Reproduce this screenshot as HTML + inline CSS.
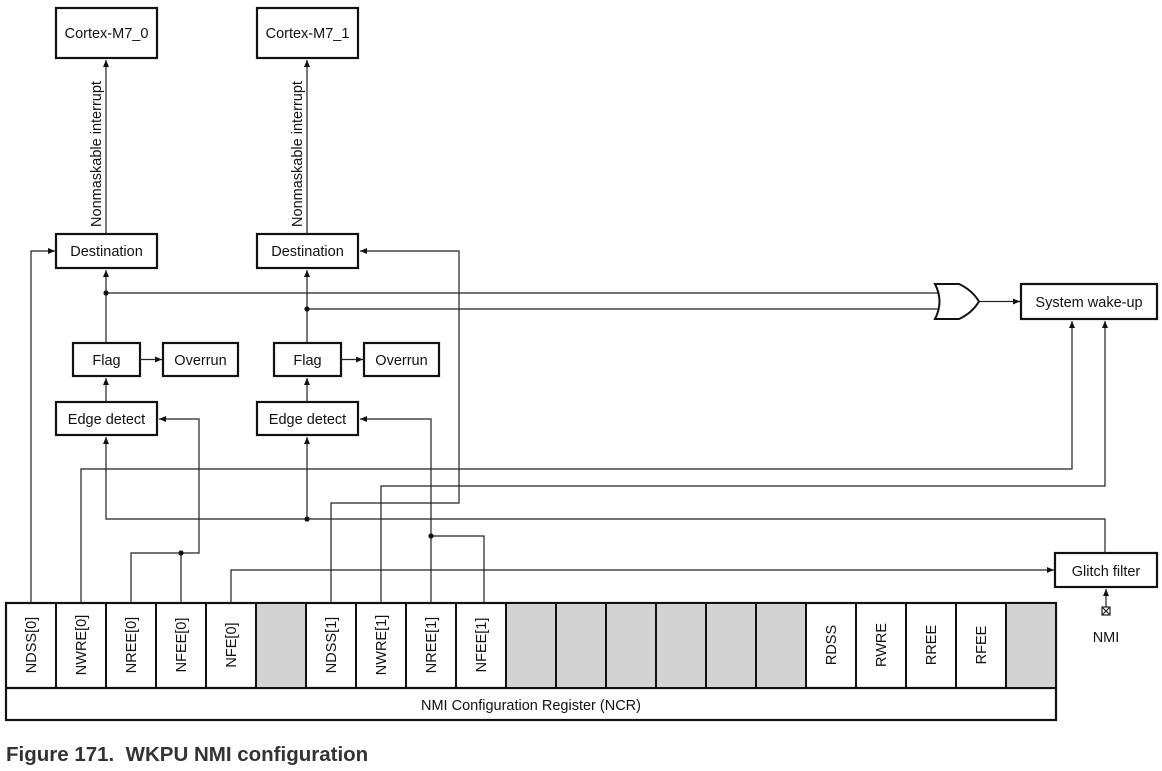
<!DOCTYPE html>
<html><head><meta charset="utf-8"><style>
body{margin:0;background:#fff;}
svg{display:block;font-family:"Liberation Sans",Arial,sans-serif;}
</style></head><body>
<svg width="1162" height="771" viewBox="0 0 1162 771" xmlns="http://www.w3.org/2000/svg">
<defs>
<marker id="a" markerWidth="8" markerHeight="8" refX="7" refY="4" orient="auto" markerUnits="userSpaceOnUse">
<path d="M0,1 L7,4 L0,7 z" fill="#111"/></marker>
</defs>
<g fill="none" stroke="#111" stroke-width="2.2">
<rect x="56" y="8" width="101" height="50"/>
<rect x="257" y="8" width="101" height="50"/>
<rect x="56" y="234" width="101" height="34"/>
<rect x="257" y="234" width="101" height="34"/>
<rect x="73" y="343" width="67" height="33"/>
<rect x="163" y="343" width="75" height="33"/>
<rect x="274" y="343" width="67" height="33"/>
<rect x="364" y="343" width="75" height="33"/>
<rect x="56" y="402" width="101" height="33"/>
<rect x="257" y="402" width="101" height="33"/>
<rect x="1021" y="284" width="136" height="35"/>
<rect x="1055" y="553" width="102" height="34"/>
<path d="M935,284 L959,284 Q972,290 979,301.5 Q972,313 959,319 L935,319 Q944,301.5 935,284 z" stroke-width="2"/>
<rect x="6" y="603" width="1050" height="117"/>
<line x1="6" y1="688" x2="1056" y2="688"/>
</g>
<g fill="#d3d3d3" stroke="#111" stroke-width="2">
<rect x="256" y="603" width="50" height="85"/>
<rect x="506" y="603" width="50" height="85"/>
<rect x="556" y="603" width="50" height="85"/>
<rect x="606" y="603" width="50" height="85"/>
<rect x="656" y="603" width="50" height="85"/>
<rect x="706" y="603" width="50" height="85"/>
<rect x="756" y="603" width="50" height="85"/>
<rect x="1006" y="603" width="50" height="85"/>
</g>
<g stroke="#111" stroke-width="2">
<line x1="56" y1="603" x2="56" y2="688"/><line x1="106" y1="603" x2="106" y2="688"/>
<line x1="156" y1="603" x2="156" y2="688"/><line x1="206" y1="603" x2="206" y2="688"/>
<line x1="356" y1="603" x2="356" y2="688"/><line x1="406" y1="603" x2="406" y2="688"/>
<line x1="456" y1="603" x2="456" y2="688"/><line x1="856" y1="603" x2="856" y2="688"/>
<line x1="906" y1="603" x2="906" y2="688"/><line x1="956" y1="603" x2="956" y2="688"/>
</g>
<g fill="none" stroke="#222" stroke-width="1.2">
<line x1="106" y1="234" x2="106" y2="60" marker-end="url(#a)"/>
<line x1="307" y1="234" x2="307" y2="60" marker-end="url(#a)"/>
<line x1="106" y1="343" x2="106" y2="270" marker-end="url(#a)"/>
<line x1="307" y1="343" x2="307" y2="270" marker-end="url(#a)"/>
<line x1="106" y1="402" x2="106" y2="378" marker-end="url(#a)"/>
<line x1="307" y1="402" x2="307" y2="378" marker-end="url(#a)"/>
<line x1="140" y1="359.5" x2="162" y2="359.5" marker-end="url(#a)"/>
<line x1="341" y1="359.5" x2="363" y2="359.5" marker-end="url(#a)"/>
<line x1="106" y1="293" x2="938" y2="293"/>
<line x1="307" y1="309" x2="938" y2="309"/>
<line x1="979" y1="301.5" x2="1020" y2="301.5" marker-end="url(#a)"/>
<polyline points="31,603 31,251 55,251" marker-end="url(#a)"/>
<polyline points="81,603 81,469 1072,469 1072,321" marker-end="url(#a)"/>
<polyline points="381,603 381,486 1105,486 1105,321" marker-end="url(#a)"/>
<polyline points="331,603 331,503 459,503 459,251 360,251" marker-end="url(#a)"/>
<polyline points="1105,553 1105,519 106,519 106,437" marker-end="url(#a)"/>
<line x1="307" y1="519" x2="307" y2="437" marker-end="url(#a)"/>
<polyline points="131,603 131,553 199,553 199,419 159,419" marker-end="url(#a)"/>
<line x1="181" y1="553" x2="181" y2="603"/>
<polyline points="431,603 431,419 360,419" marker-end="url(#a)"/>
<polyline points="431,536 484,536 484,603"/>
<polyline points="231,603 231,570 1054,570" marker-end="url(#a)"/>
<line x1="1106" y1="607" x2="1106" y2="589" marker-end="url(#a)"/>
<rect x="1102" y="607" width="8" height="8"/>
<line x1="1102" y1="607" x2="1110" y2="615"/><line x1="1110" y1="607" x2="1102" y2="615"/>
</g>
<g fill="#111">
<circle cx="106" cy="293" r="2.6"/><circle cx="307" cy="309" r="2.6"/>
<circle cx="307" cy="519" r="2.6"/><circle cx="181" cy="553" r="2.6"/>
<circle cx="431" cy="536" r="2.6"/>
</g>
<g font-size="14.5" fill="#111" text-anchor="middle">
<text x="106.5" y="38">Cortex-M7_0</text>
<text x="307.5" y="38">Cortex-M7_1</text>
<text x="106.5" y="256">Destination</text>
<text x="307.5" y="256">Destination</text>
<text x="106.5" y="365">Flag</text>
<text x="200.5" y="365">Overrun</text>
<text x="307.5" y="365">Flag</text>
<text x="401.5" y="365">Overrun</text>
<text x="106.5" y="424">Edge detect</text>
<text x="307.5" y="424">Edge detect</text>
<text x="1089" y="307">System wake-up</text>
<text x="1106" y="576">Glitch filter</text>
<text x="1106" y="642">NMI</text>
<text x="531" y="710">NMI Configuration Register (NCR)</text>
<text transform="translate(101,154) rotate(-90)">Nonmaskable interrupt</text>
<text transform="translate(302,154) rotate(-90)">Nonmaskable interrupt</text>
<text transform="translate(36,645) rotate(-90)">NDSS[0]</text>
<text transform="translate(86,645) rotate(-90)">NWRE[0]</text>
<text transform="translate(136,645) rotate(-90)">NREE[0]</text>
<text transform="translate(186,645) rotate(-90)">NFEE[0]</text>
<text transform="translate(236,645) rotate(-90)">NFE[0]</text>
<text transform="translate(336,645) rotate(-90)">NDSS[1]</text>
<text transform="translate(386,645) rotate(-90)">NWRE[1]</text>
<text transform="translate(436,645) rotate(-90)">NREE[1]</text>
<text transform="translate(486,645) rotate(-90)">NFEE[1]</text>
<text transform="translate(836,645) rotate(-90)">RDSS</text>
<text transform="translate(886,645) rotate(-90)">RWRE</text>
<text transform="translate(936,645) rotate(-90)">RREE</text>
<text transform="translate(986,645) rotate(-90)">RFEE</text>
</g>
<text x="6" y="761" font-size="20.5" font-weight="bold" fill="#333">Figure 171.&#160;&#160;WKPU NMI configuration</text>
</svg>
</body></html>
